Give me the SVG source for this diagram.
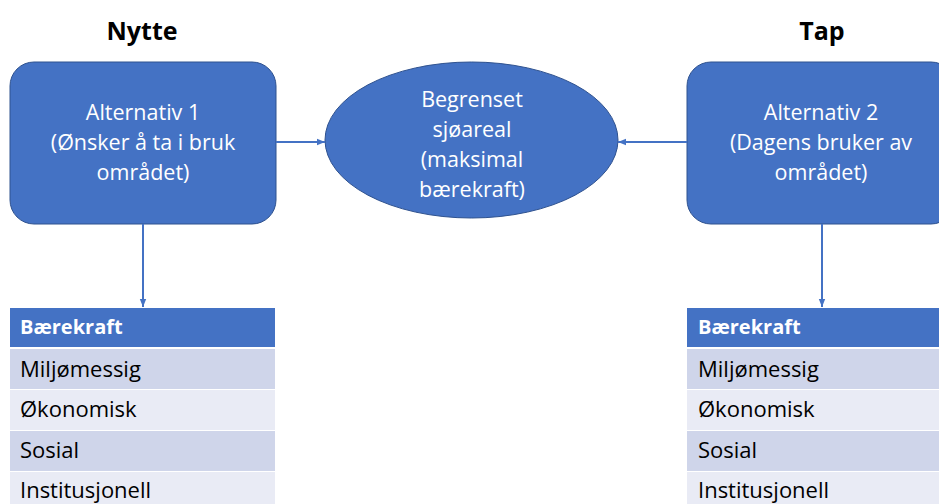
<svg xmlns="http://www.w3.org/2000/svg" width="939" height="504" viewBox="0 0 939 504">
<defs>
<marker id="ah" viewBox="0 0 10 10" refX="10" refY="5" markerWidth="8" markerHeight="8" orient="auto" markerUnits="userSpaceOnUse">
<path d="M0,1 L10,5 L0,9 z" fill="#4472C4"/>
</marker>
<style>
.shape{fill:#4472C4;stroke:#2F528F;stroke-width:1}
.wt{font-family:"Open Sans","Noto Sans",sans-serif;font-size:21.5px;fill:#fff;text-anchor:middle}
.title{font-family:"Open Sans","Noto Sans",sans-serif;font-size:25px;font-weight:bold;fill:#000;text-anchor:middle}
.hdr{fill:#4472C4}
.r1{fill:#CFD5EA}
.r2{fill:#E9EBF5}
.ht{font-family:"Open Sans","Noto Sans",sans-serif;font-size:20px;font-weight:bold;fill:#fff}
.rt{font-family:"Open Sans","Noto Sans",sans-serif;font-size:22px;fill:#000}
.conn{stroke:#4472C4;stroke-width:2;fill:none;marker-end:url(#ah)}
</style>
</defs>
<rect width="939" height="504" fill="#fff"/>
<g id="title-nytte"><text class="title" x="142" y="40">Nytte</text></g>
<g id="title-tap"><text class="title" x="822" y="40">Tap</text></g>
<g id="alt1">
<rect class="shape" x="10" y="62" width="266" height="162" rx="24"/>
<text class="wt" x="143" y="120">Alternativ 1</text>
<text class="wt" x="143" y="150">(Ønsker å ta i bruk</text>
<text class="wt" x="143" y="180">området)</text>
</g>
<g id="sea">
<ellipse class="shape" cx="471.5" cy="140" rx="146.5" ry="78"/>
<text class="wt" x="472" y="107">Begrenset</text>
<text class="wt" x="472" y="137">sjøareal</text>
<text class="wt" x="472" y="167">(maksimal</text>
<text class="wt" x="472" y="197">bærekraft)</text>
</g>
<g id="alt2">
<rect class="shape" x="687" y="62" width="268" height="162" rx="24"/>
<text class="wt" x="821" y="120">Alternativ 2</text>
<text class="wt" x="821" y="150">(Dagens bruker av</text>
<text class="wt" x="821" y="180">området)</text>
</g>
<g id="table1">
<rect class="hdr" x="10" y="308" width="265" height="39"/>
<rect class="r1" x="10" y="349" width="265" height="40"/>
<rect class="r2" x="10" y="390" width="265" height="40"/>
<rect class="r1" x="10" y="431" width="265" height="40"/>
<rect class="r2" x="10" y="472" width="265" height="40"/>
<text class="ht" x="20" y="334">Bærekraft</text>
<text class="rt" x="20" y="377">Miljømessig</text>
<text class="rt" x="20" y="417">Økonomisk</text>
<text class="rt" x="20" y="458">Sosial</text>
<text class="rt" x="20" y="498">Institusjonell</text>
</g>
<g id="table2">
<rect class="hdr" x="687" y="308" width="260" height="39"/>
<rect class="r1" x="687" y="349" width="260" height="40"/>
<rect class="r2" x="687" y="390" width="260" height="40"/>
<rect class="r1" x="687" y="431" width="260" height="40"/>
<rect class="r2" x="687" y="472" width="260" height="40"/>
<text class="ht" x="698" y="334">Bærekraft</text>
<text class="rt" x="698" y="377">Miljømessig</text>
<text class="rt" x="698" y="417">Økonomisk</text>
<text class="rt" x="698" y="458">Sosial</text>
<text class="rt" x="698" y="498">Institusjonell</text>
</g>
<g id="connectors">
<line class="conn" x1="276" y1="142" x2="325" y2="142"/>
<line class="conn" x1="687" y1="142" x2="618" y2="142"/>
<line class="conn" x1="143" y1="224" x2="143" y2="307"/>
<line class="conn" x1="822" y1="224" x2="822" y2="307"/>
</g>
</svg>
